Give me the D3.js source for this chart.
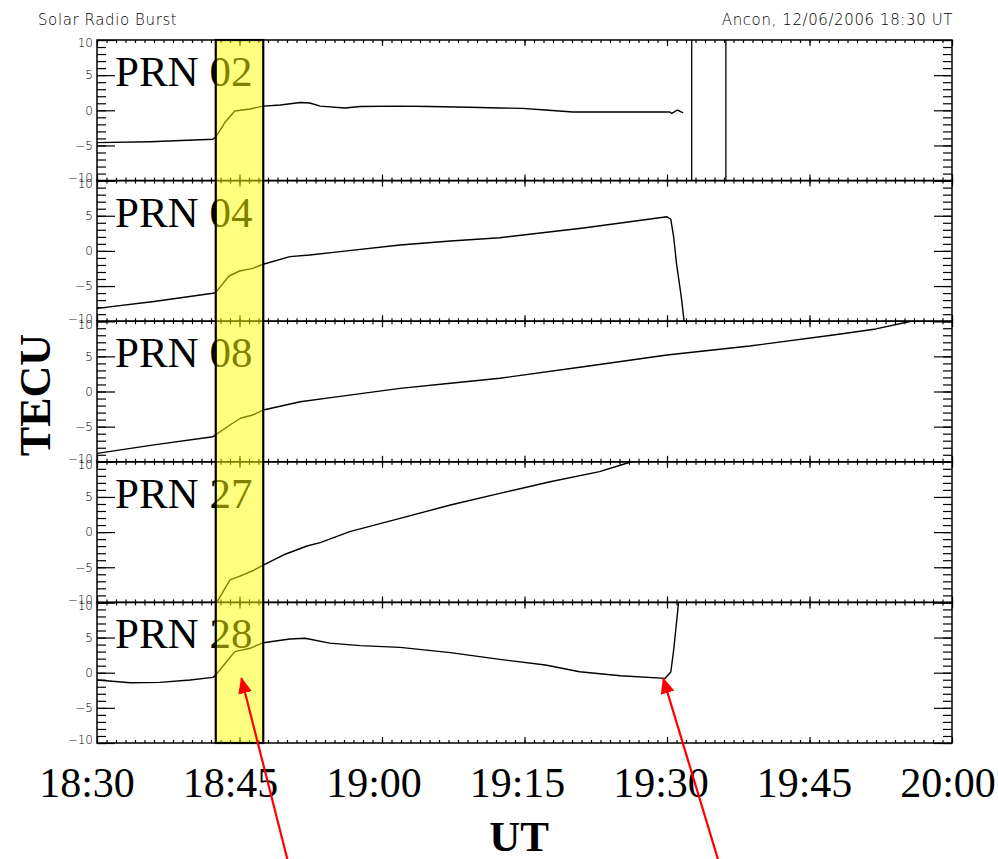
<!DOCTYPE html>
<html>
<head>
<meta charset="utf-8">
<script src="https://cdn.jsdelivr.net/npm/d3@7"></script>
<style>
  body { margin: 0; background: #fff; }
  svg { display: block; }
  .tick text { font-family: "DejaVu Sans", sans-serif; font-weight: 200; font-size: 12px; fill: #000; }
  .tick line { stroke: #000; stroke-width: 1.2; }
</style>
</head>
<body>
<div id="chart"></div>
<script>
// TEC series per satellite, [minutes after 18:30 UT, TECU]
const prn02 = [[0,-4.6],[5.6,-4.47],[12.2,-4.12],[12.5,-3.8],[13.5,-1.66],[14.5,-0.1],[16.1,0.18],[17.5,0.6],[19.3,0.75],[21.4,1.1],[22.4,1.04],[23.5,0.6],[26.1,0.33],[27.7,0.54],[31.9,0.6],[35.1,0.54],[40.3,0.4],[42.4,0.33],[44.8,0.28],[47.2,0.04],[50.1,-0.24],[55.1,-0.24],[60.3,-0.24],[60.5,-0.45],[61.1,0.04],[61.7,-0.38]];
const prn04 = [[0,-8.17],[6,-7.2],[12.2,-6.03],[12.5,-5.9],[13.9,-3.57],[15,-2.86],[16.4,-2.48],[17.5,-1.9],[20.3,-0.82],[22.4,-0.58],[25.6,-0.1],[31.9,0.84],[37.2,1.41],[42.4,1.88],[51.2,3.26],[60,4.86],[60.4,4.5],[60.7,2.0],[61.0,-1.8],[61.5,-6.5],[61.8,-10]];
const prn08 = [[0,-8.8],[6,-7.6],[12.2,-6.43],[14,-4.77],[15.1,-3.81],[16.4,-3.34],[17.5,-2.63],[21.4,-1.45],[24.8,-0.83],[31.9,0.45],[37.2,1.17],[42.4,1.88],[51.2,3.53],[60,5.19],[68.7,6.47],[77.5,8.04],[82,8.9],[85.7,10]];
const prn27 = [[12.6,-10],[14,-6.8],[15.05,-6.25],[16.4,-5.5],[17.5,-4.7],[19.6,-3.26],[22.1,-1.98],[23.5,-1.5],[26.6,0.06],[31.9,1.96],[37.2,3.85],[42.4,5.5],[47.7,7.17],[52.9,8.6],[56.1,9.93],[56.3,10]];
const prn28 = [[0,-1.04],[3.5,-1.42],[6.6,-1.37],[9.8,-1.04],[12.2,-0.66],[12.5,-0.33],[13.5,1.34],[14.5,3.0],[16.1,3.47],[17.5,4.27],[20.3,4.8],[21.9,4.9],[24.5,4.2],[27.7,3.85],[31.9,3.6],[37.2,2.85],[42.4,1.9],[47.2,1.1],[50.8,0.14],[55.1,-0.43],[59.8,-0.8],[60.4,0.1],[60.7,3.2],[61.1,8.4],[61.2,10]];

const panelNames = ["PRN 02", "PRN 04", "PRN 08", "PRN 27", "PRN 28"];
const panelSeries = [prn02, prn04, prn08, prn27, prn28];

// data gaps in PRN 02 (vertical jumps through the whole range)
const prn02Jumps = [62.6, 66.2];

// burst window, minutes after 18:30
const burstWindow = [12.5, 17.5];

const timeTicks = [0, 15, 30, 45, 60, 75, 90];
const timeLabels = ["18:30", "18:45", "19:00", "19:15", "19:30", "19:45", "20:00"];
const yMajor = [-10, -5, 0, 5, 10];

// arrows pointing at the onset and the jump in PRN 28 [minutes, TECU]
const arrowTips = [[15.2, -0.8], [59.6, -0.8]];

const width = 998, height = 859;
const margin = { top: 40, left: 97, right: 46, bottom: 116 };
const plotW = width - margin.left - margin.right;
const panelH = (height - margin.top - margin.bottom) / panelNames.length;

const svg = d3.select("#chart").append("svg")
  .attr("width", width)
  .attr("height", height);

const x = d3.scaleLinear().domain([0, 90]).range([margin.left, margin.left + plotW]);
// the big time labels sit slightly left of the tick positions
const xLabel = d3.scaleLinear().domain([0, 90]).range([87, 948]);

const fmtY = (d) => (d < 0 ? "\u2212" + -d : "" + d);

// header
svg.append("text")
  .attr("x", 38).attr("y", 25)
  .style("font-family", "DejaVu Sans, sans-serif")
  .style("font-weight", 200)
  .style("font-size", "15px")
  .style("letter-spacing", "0.6px")
  .text("Solar Radio Burst");

svg.append("text")
  .attr("x", 953).attr("y", 25)
  .attr("text-anchor", "end")
  .style("font-family", "DejaVu Sans, sans-serif")
  .style("font-weight", 200)
  .style("font-size", "15px")
  .style("letter-spacing", "0.6px")
  .text("Ancon, 12/06/2006 18:30 UT");

const line = d3.line();

panelSeries.forEach((series, i) => {
  const top = margin.top + i * panelH;
  const y = d3.scaleLinear().domain([-10, 10]).range([top + panelH, top]);
  const g = svg.append("g").attr("class", "panel");

  svg.append("clipPath").attr("id", "clip" + i)
    .append("rect")
    .attr("x", margin.left).attr("y", top)
    .attr("width", plotW).attr("height", panelH);

  // minor ticks
  g.append("g").attr("transform", `translate(${margin.left},0)`)
    .call(d3.axisLeft(y).tickValues(d3.range(-10, 11)).tickSize(-9).tickFormat(""));
  g.append("g").attr("transform", `translate(${margin.left + plotW},0)`)
    .call(d3.axisRight(y).tickValues(d3.range(-10, 11)).tickSize(-9).tickFormat(""));
  g.append("g").attr("transform", `translate(0,${top + panelH})`)
    .call(d3.axisBottom(x).tickValues(d3.range(0, 91)).tickSize(-3).tickFormat(""));
  g.append("g").attr("transform", `translate(0,${top})`)
    .call(d3.axisTop(x).tickValues(d3.range(0, 91)).tickSize(-3).tickFormat(""));

  // major ticks
  const left = g.append("g").attr("transform", `translate(${margin.left},0)`)
    .call(d3.axisLeft(y).tickValues(yMajor).tickSize(-18).tickPadding(4).tickFormat(fmtY));
  left.selectAll("text").attr("y", (d) => (d === 10 ? 3 : d === -10 ? -3 : 0));
  g.append("g").attr("transform", `translate(${margin.left + plotW},0)`)
    .call(d3.axisRight(y).tickValues(yMajor).tickSize(-18).tickFormat(""));
  g.append("g").attr("transform", `translate(0,${top + panelH})`)
    .call(d3.axisBottom(x).tickValues(timeTicks).tickSize(-6).tickFormat(""));
  g.append("g").attr("transform", `translate(0,${top})`)
    .call(d3.axisTop(x).tickValues(timeTicks).tickSize(-6).tickFormat(""));

  g.selectAll(".domain").remove();

  g.append("rect")
    .attr("x", margin.left).attr("y", top)
    .attr("width", plotW).attr("height", panelH)
    .attr("fill", "none")
    .attr("stroke", "#000")
    .attr("stroke-width", 1.5);

  g.append("path")
    .datum(series)
    .attr("clip-path", `url(#clip${i})`)
    .attr("fill", "none")
    .attr("stroke", "#000")
    .attr("stroke-width", 1.4)
    .attr("stroke-linejoin", "round")
    .attr("d", line.x((d) => x(d[0])).y((d) => y(d[1])));

  if (i === 0) {
    g.selectAll(".jump")
      .data(prn02Jumps)
      .enter()
      .append("line")
      .attr("class", "jump")
      .attr("x1", (d) => x(d)).attr("x2", (d) => x(d))
      .attr("y1", y(10)).attr("y2", y(-10))
      .attr("stroke", "#000")
      .attr("stroke-width", 1.3);
  }

  g.append("text")
    .attr("x", 115)
    .attr("y", top + 46)
    .style("font-family", "Liberation Serif, Times New Roman, serif")
    .style("font-size", "43px")
    .text(panelNames[i]);
});

// burst window overlay
svg.append("rect")
  .attr("x", x(burstWindow[0]))
  .attr("y", margin.top)
  .attr("width", x(burstWindow[1]) - x(burstWindow[0]))
  .attr("height", panelH * panelNames.length)
  .attr("fill", "#ffff00")
  .attr("fill-opacity", 0.5)
  .attr("stroke", "#000")
  .attr("stroke-width", 2.2);

// time labels
svg.selectAll(".time-label")
  .data(timeTicks)
  .enter()
  .append("text")
  .attr("class", "time-label")
  .attr("x", (d) => xLabel(d))
  .attr("y", 797)
  .attr("text-anchor", "middle")
  .style("font-family", "Liberation Serif, Times New Roman, serif")
  .style("font-size", "42px")
  .text((d, i) => timeLabels[i]);

svg.append("text")
  .attr("x", 519)
  .attr("y", 851)
  .attr("text-anchor", "middle")
  .style("font-family", "Liberation Serif, Times New Roman, serif")
  .style("font-weight", "bold")
  .style("font-size", "43px")
  .text("UT");

svg.append("text")
  .attr("transform", "translate(50,395) rotate(-90)")
  .attr("text-anchor", "middle")
  .style("font-family", "Liberation Serif, Times New Roman, serif")
  .style("font-weight", "bold")
  .style("font-size", "44px")
  .text("TECU");

// red arrows
svg.append("defs").append("marker")
  .attr("id", "head")
  .attr("viewBox", "0 0 16 14")
  .attr("refX", 15).attr("refY", 7)
  .attr("markerWidth", 16).attr("markerHeight", 14)
  .attr("markerUnits", "userSpaceOnUse")
  .attr("orient", "auto")
  .append("path")
  .attr("d", "M0,0 L16,7 L0,14 Z")
  .attr("fill", "#ff0000");

const yLast = d3.scaleLinear().domain([-10, 10])
  .range([margin.top + panelH * 5, margin.top + panelH * 4]);
const tailShift = [[47, 185], [56, 185]];

svg.selectAll(".arrow")
  .data(arrowTips)
  .enter()
  .append("line")
  .attr("class", "arrow")
  .attr("x1", (d, i) => x(d[0]) + tailShift[i][0])
  .attr("y1", (d, i) => yLast(d[1]) + tailShift[i][1])
  .attr("x2", (d) => x(d[0]))
  .attr("y2", (d) => yLast(d[1]))
  .attr("stroke", "#ff0000")
  .attr("stroke-width", 2.2)
  .attr("marker-end", "url(#head)");
</script>
</body>
</html>
